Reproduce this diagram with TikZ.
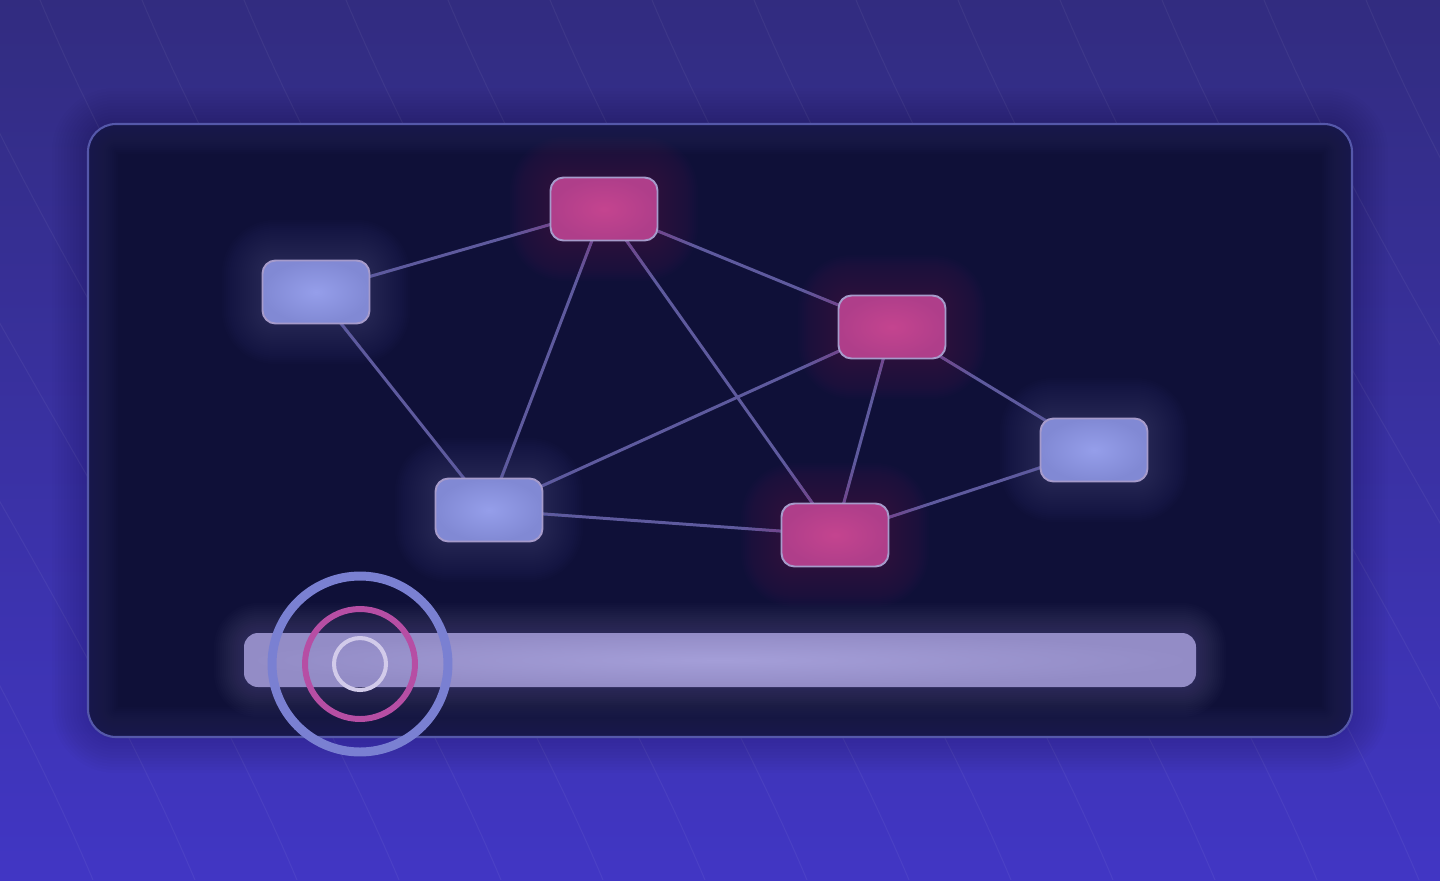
\documentclass[tikz,border=0pt]{standalone}
\definecolor{bgtop}{HTML}{322C80}
\definecolor{bgbot}{HTML}{4136C4}
\definecolor{panelfill}{HTML}{0F1038}
\definecolor{panelrim}{HTML}{5558AA}
\definecolor{panelsoft}{HTML}{2A2A66}
\definecolor{linkcol}{HTML}{5E5A9E}
\definecolor{rose}{HTML}{C4448F}
\definecolor{rosedark}{HTML}{AF3E8A}
\definecolor{lilac}{HTML}{959EEA}
\definecolor{lilacdark}{HTML}{8189D4}
\definecolor{nodeedge}{HTML}{A69BCB}
\definecolor{barcol}{HTML}{A49ED8}
\definecolor{bardark}{HTML}{938CC6}
\definecolor{ringout}{HTML}{7A80D2}
\definecolor{ringmid}{HTML}{B64EA4}
\definecolor{ringin}{HTML}{D2CBEA}
\pgfdeclarelayer{back}
\pgfdeclarelayer{links}
\pgfsetlayers{back,links,main}
\tikzset{
  stripe/.style={white,opacity=0.05,line width=0.6pt},
  rose node/.style={draw=nodeedge,line width=1.1pt,rounded corners=0.26cm,
    inner color=rose,outer color=rosedark,minimum width=2.14cm,minimum height=1.26cm,inner sep=0pt},
  lilac node/.style={draw=nodeedge,line width=1.1pt,rounded corners=0.26cm,
    inner color=lilac,outer color=lilacdark,minimum width=2.14cm,minimum height=1.26cm,inner sep=0pt},
  rose glow/.style={fill=rose,opacity=0.011},
  lilac glow/.style={fill=lilac,opacity=0.011},
  link/.style={linkcol,line width=1.7pt},
}
\begin{document}
\begin{tikzpicture}[x=0.02cm,y=-0.02cm]
    \useasboundingbox (0,0) rectangle (1440,880);
    \begin{pgfonlayer}{back}
        % backdrop and slanted stripes
        \shade[top color=bgtop,bottom color=bgbot] (0,0) rectangle (1440,880);
        \begin{scope}
            \clip (0,0) rectangle (1440,880);
            \foreach \k in {-5,...,13} {
                \pgfmathsetmacro\xo{40+102*\k}
                \draw[stripe] (\xo,0) .. controls ({\xo+122},290) and ({\xo+339},590) .. ({\xo+461},880);
            }
        \end{scope}
        % shadow round the card
        \foreach \r in {3,6,...,36} {
            \pgfmathsetmacro\rc{0.56+\r*0.02}
            \fill[black,opacity=0.012,rounded corners=\rc cm] ({88-\r},{124-\r}) rectangle ({1352+\r},{737+\r});
        }
        \fill[panelfill,rounded corners=0.56cm] (88,124) rectangle (1352,737);
        \begin{scope}
            \clip[rounded corners=0.56cm] (88,124) rectangle (1352,737);
            \foreach \w in {4,8,...,60}
                \draw[panelsoft,opacity=0.05,line width=\w*0.02cm,rounded corners=0.56cm]
                    (88,124) rectangle (1352,737);
        \end{scope}
        \draw[panelrim,line width=1.2pt,rounded corners=0.56cm] (88,124) rectangle (1352,737);
    \end{pgfonlayer}

    % graph nodes with their glow
    \foreach \n/\x/\y/\k in {lt/316/292/lilac, tp/604/209/rose, md/892/327/rose,
                             rt/1094/450/lilac, bt/835/535/rose, lw/489/510/lilac} {
        \foreach \r in {2,4,...,40} {
            \pgfmathsetmacro\rc{0.26+\r*0.02}
            \fill[\k\space glow,rounded corners=\rc cm] ({\x-54-\r},{\y-32-\r}) rectangle ({\x+54+\r},{\y+32+\r});
        }
        \node[\k\space node] (\n) at (\x,\y) {};
    }

    \begin{pgfonlayer}{links}
        \draw[link] (lt.center) -- (tp.center);
        \draw[link] (lt.center) -- (lw.center);
        \draw[link] (tp.center) -- (lw.center);
        \draw[link] (tp.center) -- (bt.center);
        \draw[link] (tp.center) -- (md.center);
        \draw[link] (md.center) -- (lw.center);
        \draw[link] (md.center) -- (bt.center);
        \draw[link] (md.center) -- (rt.center);
        \draw[link] (rt.center) -- (bt.center);
        \draw[link] (lw.center) -- (bt.center);
    \end{pgfonlayer}

    % slider track
    \foreach \r in {2,4,...,30} {
        \pgfmathsetmacro\rc{0.28+\r*0.02}
        \fill[barcol,opacity=0.014,rounded corners=\rc cm] ({244-\r},{633-\r}) rectangle ({1196+\r},{687+\r});
    }
    \shade[inner color=barcol,outer color=bardark,rounded corners=0.28cm] (244,633) rectangle (1196,687);

    % slider knob
    \coordinate (knob) at (360,664);
    \draw[ringout,line width=5.1pt] (knob) circle[radius=1.76cm];
    \draw[ringmid,line width=3.4pt] (knob) circle[radius=1.1cm];
    \draw[ringin,line width=2.3pt] (knob) circle[radius=0.52cm];
\end{tikzpicture}
\end{document}
